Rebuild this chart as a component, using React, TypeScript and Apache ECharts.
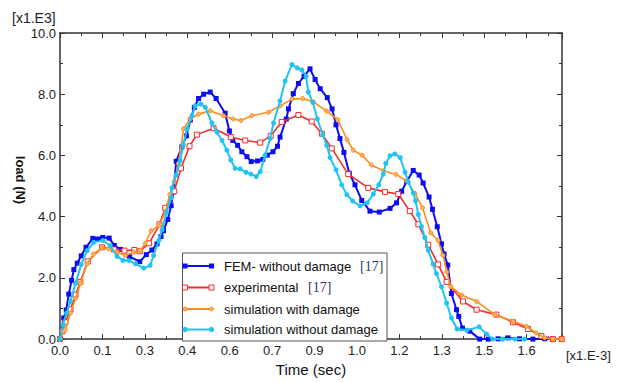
import React, { useEffect, useRef } from 'react';
import * as echarts from 'echarts';

// x tick labels as printed on the reference (ticks every 0.15 axis units)
const xTickLabels = ['0.0', '0.1', '0.3', '0.4', '0.6', '0.7', '0.9', '1.0', '1.2', '1.3', '1.5', '1.6'];
const yTickLabels = ['0.0', '2.0', '4.0', '6.0', '8.0', '10.0'];
const X_STEP = 0.15;
const X_MAX = 1.775;

const femData: [number, number][] = [
  [0, 0], [0.013, 0.69], [0.022, 0.95], [0.031, 1.47], [0.041, 1.92], [0.049, 2.27], [0.061, 2.48],
  [0.075, 2.72], [0.092, 3.0], [0.116, 3.29], [0.133, 3.27], [0.151, 3.32], [0.174, 3.3], [0.192, 3.06],
  [0.214, 2.93], [0.246, 2.69], [0.282, 2.53], [0.305, 2.76], [0.325, 2.91], [0.343, 3.11], [0.357, 3.35],
  [0.366, 3.54], [0.381, 3.91], [0.393, 4.36], [0.401, 4.81], [0.411, 5.81], [0.431, 6.28], [0.447, 6.64],
  [0.461, 7.16], [0.475, 7.57], [0.49, 7.86], [0.508, 8.0], [0.531, 8.07], [0.552, 7.86], [0.584, 7.38],
  [0.599, 6.8], [0.611, 6.49], [0.628, 6.33], [0.643, 6.12], [0.661, 5.96], [0.676, 5.8], [0.698, 5.82],
  [0.717, 5.87], [0.733, 6.01], [0.753, 6.12], [0.769, 6.3], [0.778, 6.6], [0.8, 7.19], [0.808, 7.52],
  [0.825, 8.02], [0.843, 8.35], [0.863, 8.59], [0.884, 8.83], [0.902, 8.48], [0.92, 8.18], [0.945, 7.89],
  [0.962, 7.52], [0.976, 7.0], [0.99, 6.55], [1.004, 6.1], [1.023, 5.42], [1.043, 5.04], [1.067, 4.53],
  [1.096, 4.18], [1.129, 4.15], [1.167, 4.27], [1.19, 4.45], [1.208, 4.83], [1.226, 5.15], [1.249, 5.51],
  [1.27, 5.36], [1.284, 5.1], [1.305, 4.64], [1.317, 4.24], [1.334, 3.67], [1.349, 3.11], [1.358, 2.78],
  [1.371, 2.42], [1.384, 1.49], [1.402, 0.96], [1.41, 0.74], [1.423, 0.36], [1.449, 0.26], [1.484, 0],
  [1.514, 0], [1.549, 0.01], [1.584, 0.04], [1.625, 0.01], [1.672, 0], [1.714, 0.01], [1.743, 0], [1.773, 0],
];

const experimentalData: [number, number][] = [
  [0, 0], [0.009, 0.26], [0.019, 0.55], [0.037, 0.97], [0.055, 1.45], [0.072, 1.87], [0.098, 2.54],
  [0.149, 3.0], [0.19, 2.93], [0.228, 2.89], [0.263, 2.91], [0.282, 2.87], [0.315, 3.13], [0.352, 3.75],
  [0.372, 4.29], [0.404, 4.83], [0.428, 5.58], [0.458, 6.3], [0.484, 6.68], [0.543, 6.89], [0.604, 6.6],
  [0.655, 6.49], [0.708, 6.42], [0.745, 6.64], [0.784, 7.09], [0.843, 7.32], [0.89, 7.11], [0.926, 6.71],
  [0.961, 6.23], [1.019, 5.39], [1.09, 4.94], [1.149, 4.81], [1.196, 4.74], [1.237, 4.18], [1.267, 3.75],
  [1.302, 3.08], [1.337, 2.44], [1.367, 1.87], [1.425, 1.23], [1.473, 0.96], [1.543, 0.8], [1.602, 0.55],
  [1.655, 0.33], [1.702, 0.1], [1.743, 0], [1.774, 0],
];

const simDamageData: [number, number][] = [
  [0, 0], [0.019, 0.31], [0.037, 0.85], [0.055, 1.33], [0.072, 1.82], [0.096, 2.46], [0.119, 2.78],
  [0.149, 2.98], [0.172, 2.95], [0.202, 2.84], [0.231, 2.73], [0.26, 2.84], [0.284, 2.89], [0.302, 3.13],
  [0.322, 3.54], [0.349, 3.7], [0.372, 4.13], [0.388, 4.72], [0.404, 5.15], [0.419, 5.74], [0.437, 6.87],
  [0.461, 7.19], [0.49, 7.35], [0.531, 7.46], [0.578, 7.3], [0.613, 7.19], [0.64, 7.14], [0.678, 7.3],
  [0.737, 7.41], [0.778, 7.62], [0.82, 7.84], [0.858, 7.86], [0.896, 7.75], [0.942, 7.45], [0.982, 7.17],
  [1.015, 6.52], [1.037, 6.17], [1.068, 6.01], [1.101, 5.69], [1.144, 5.5], [1.188, 5.38], [1.227, 5.16],
  [1.255, 4.76], [1.282, 4.29], [1.311, 3.47], [1.337, 3.22], [1.354, 2.74], [1.368, 2.19], [1.382, 1.71],
  [1.42, 1.44], [1.473, 1.23], [1.537, 0.8], [1.602, 0.58], [1.649, 0.42], [1.684, 0.2], [1.714, 0.04],
  [1.743, 0], [1.773, 0],
];

const simNoDamageData: [number, number][] = [
  [0, 0], [0.011, 0.47], [0.023, 0.85], [0.037, 1.23], [0.055, 1.82], [0.075, 2.44], [0.096, 2.89],
  [0.119, 3.16], [0.152, 3.22], [0.178, 3.05], [0.202, 2.7], [0.223, 2.57], [0.243, 2.57], [0.267, 2.46],
  [0.296, 2.32], [0.319, 2.41], [0.331, 2.73], [0.349, 3.22], [0.361, 3.57], [0.376, 4.13], [0.393, 4.61],
  [0.396, 4.94], [0.411, 5.36], [0.425, 5.82], [0.436, 6.35], [0.449, 6.87], [0.467, 7.3], [0.478, 7.62],
  [0.498, 7.68], [0.514, 7.57], [0.537, 7.06], [0.555, 6.76], [0.573, 6.49], [0.59, 6.17], [0.604, 5.85],
  [0.619, 5.58], [0.637, 5.56], [0.658, 5.45], [0.675, 5.39], [0.694, 5.31], [0.708, 5.47], [0.725, 6.01],
  [0.743, 6.55], [0.755, 7.06], [0.778, 7.78], [0.796, 8.43], [0.82, 8.97], [0.839, 8.86], [0.855, 8.79],
  [0.87, 8.59], [0.878, 8.07], [0.894, 7.73], [0.91, 7.19], [0.929, 6.68], [0.943, 6.33], [0.955, 5.93],
  [0.976, 5.53], [0.996, 5.04], [1.014, 4.72], [1.035, 4.51], [1.061, 4.35], [1.086, 4.45], [1.108, 4.74],
  [1.127, 5.04], [1.143, 5.39], [1.152, 5.74], [1.167, 5.99], [1.184, 6.05], [1.203, 5.93], [1.22, 5.45],
  [1.232, 5.13], [1.249, 4.77], [1.257, 4.52], [1.267, 4.07], [1.278, 3.68], [1.29, 3.32], [1.302, 2.9],
  [1.319, 2.46], [1.331, 2.14], [1.349, 1.71], [1.367, 1.17], [1.384, 0.69], [1.404, 0.33], [1.438, 0.29],
  [1.482, 0.4], [1.509, 0.16], [1.53, 0], [1.565, 0], [1.608, 0], [1.643, 0],
];

const seriesNames = ['FEM- without damage', 'experimental', 'simulation with damage', 'simulation without damage'];
const seriesColors = ['#0d0df2', '#f52a2a', '#ff8c1e', '#1fc4f2'];

const SANS = '"Liberation Sans", Arial, sans-serif';
const SERIF = '"Liberation Serif", "DejaVu Serif", serif';

export default function App() {
  const ref = useRef<HTMLDivElement>(null);

  useEffect(() => {
    if (!ref.current) return;
    const chart = echarts.init(ref.current, null, { renderer: 'svg' });

    const axisLineStyle = { color: '#333', width: 1.5 };
    const tickStyle = { color: '#333', width: 1 };

    const xLabelFormatter = (v: number) => {
      const i = Math.round(v / X_STEP);
      if (Math.abs(i * X_STEP - v) > 1e-6) return '';
      return xTickLabels[i] ?? '';
    };
    const yLabelFormatter = (v: number) => {
      const i = Math.round(v / 2);
      return yTickLabels[i] ?? '';
    };

    const legendTop = 253;
    const legendLeft = 182.5;
    const rowsY = [266, 287.5, 309, 329.5];
    const lineX1 = 185;
    const lineX2 = 211.5;
    const LZ = 100;

    const markerFor = (idx: number, cx: number, cy: number) => {
      const c = seriesColors[idx];
      if (idx === 0) {
        return { type: 'rect', z: LZ + 2, shape: { x: cx - 2.5, y: cy - 2.5, width: 5, height: 5 }, style: { fill: c } };
      }
      if (idx === 1) {
        return { type: 'rect', z: LZ + 2, shape: { x: cx - 2.5, y: cy - 2.5, width: 5, height: 5 }, style: { fill: '#fff', stroke: c, lineWidth: 1 } };
      }
      if (idx === 2) {
        return { type: 'circle', z: LZ + 2, shape: { cx, cy, r: 2 }, style: { fill: '#ffb060', stroke: c, lineWidth: 1 } };
      }
      return { type: 'circle', z: LZ + 2, shape: { cx, cy, r: 2.6 }, style: { fill: c } };
    };

    const legendElements: any[] = [
      {
        type: 'rect',
        z: LZ,
        shape: { x: legendLeft, y: legendTop, width: 204.5, height: 88 },
        style: { fill: '#fff', stroke: '#555', lineWidth: 1 },
      },
    ];
    seriesNames.forEach((name, i) => {
      const y = rowsY[i];
      legendElements.push({
        type: 'line',
        z: LZ + 1,
        shape: { x1: lineX1, y1: y, x2: lineX2, y2: y },
        style: { stroke: seriesColors[i], lineWidth: 2 },
      });
      legendElements.push(markerFor(i, lineX1, y));
      legendElements.push(markerFor(i, lineX2, y));
      legendElements.push({
        type: 'text',
        z: LZ + 1,
        x: 224,
        y,
        style: { text: name, fill: '#111', font: `13px ${SANS}`, verticalAlign: 'middle', align: 'left' },
      });
    });
    legendElements.push({
      type: 'text', z: LZ + 1, x: 360, y: rowsY[0],
      style: { text: '[17]', fill: '#2f3a55', font: `14px ${SERIF}`, verticalAlign: 'middle', align: 'left' },
    });
    legendElements.push({
      type: 'text', z: LZ + 1, x: 308, y: rowsY[1],
      style: { text: '[17]', fill: '#2f3a55', font: `14px ${SERIF}`, verticalAlign: 'middle', align: 'left' },
    });

    const makeSeries = (idx: number, data: [number, number][], symbol: string, size: number, item: any, width: number) => ({
      name: seriesNames[idx],
      type: 'line',
      data,
      symbol,
      symbolSize: size,
      showSymbol: true,
      showAllSymbol: true,
      lineStyle: { color: seriesColors[idx], width },
      itemStyle: item,
      xAxisIndex: 0,
      yAxisIndex: 0,
      z: 2 + idx,
      emphasis: { disabled: true },
    });

    const option: any = {
      animation: false,
      backgroundColor: '#fff',
      grid: { left: 60, right: 60, top: 33, bottom: 39, containLabel: false },
      xAxis: [
        {
          type: 'value',
          min: 0,
          max: X_MAX,
          interval: X_STEP,
          position: 'bottom',
          axisLine: { show: true, onZero: false, lineStyle: axisLineStyle },
          axisTick: { show: true, inside: true, length: 5, lineStyle: tickStyle },
          minorTick: { show: true, splitNumber: 2, length: 3, lineStyle: tickStyle },
          splitLine: { show: false },
          axisLabel: {
            formatter: xLabelFormatter,
            fontSize: 13,
            fontFamily: SANS,
            color: '#222',
            margin: 5,
            showMaxLabel: false,
          },
          name: 'Time (sec)',
          nameLocation: 'middle',
          nameGap: 22,
          nameTextStyle: { fontSize: 15, fontFamily: SANS, color: '#111' },
        },
        {
          type: 'value',
          min: 0,
          max: X_MAX,
          interval: X_STEP,
          position: 'top',
          axisLine: { show: true, onZero: false, lineStyle: axisLineStyle },
          axisTick: { show: true, inside: true, length: 5, lineStyle: tickStyle },
          minorTick: { show: true, splitNumber: 2, length: 3, lineStyle: tickStyle },
          splitLine: { show: false },
          axisLabel: { show: false },
        },
      ],
      yAxis: [
        {
          type: 'value',
          min: 0,
          max: 10,
          interval: 2,
          position: 'left',
          axisLine: { show: true, onZero: false, lineStyle: axisLineStyle },
          axisTick: { show: true, inside: true, length: 5, lineStyle: tickStyle },
          minorTick: { show: true, splitNumber: 2, length: 3, lineStyle: tickStyle },
          splitLine: { show: false },
          axisLabel: {
            formatter: yLabelFormatter,
            fontSize: 13,
            fontFamily: SANS,
            color: '#222',
            margin: 4,
          },
        },
        {
          type: 'value',
          min: 0,
          max: 10,
          interval: 2,
          position: 'right',
          axisLine: { show: true, onZero: false, lineStyle: axisLineStyle },
          axisTick: { show: true, inside: true, length: 5, lineStyle: tickStyle },
          minorTick: { show: true, splitNumber: 2, length: 3, lineStyle: tickStyle },
          splitLine: { show: false },
          axisLabel: { show: false },
        },
      ],
      series: [
        makeSeries(0, femData, 'rect', 5, { color: seriesColors[0] }, 2),
        makeSeries(1, experimentalData, 'rect', 5, { color: '#fff', borderColor: seriesColors[1], borderWidth: 1 }, 1.6),
        makeSeries(2, simDamageData, 'circle', 4, { color: '#ffb060', borderColor: seriesColors[2], borderWidth: 1 }, 1.6),
        makeSeries(3, simNoDamageData, 'circle', 5, { color: seriesColors[3] }, 2),
      ],
      graphic: [
        {
          type: 'text', x: 12, y: 18,
          style: { text: '[x1.E3]', fill: '#222', font: `14px ${SANS}`, verticalAlign: 'middle', align: 'left' },
        },
        {
          type: 'text', x: 566, y: 355,
          style: { text: '[x1.E-3]', fill: '#222', font: `13px ${SANS}`, verticalAlign: 'middle', align: 'left' },
        },
        {
          type: 'text', x: 20, y: 180, rotation: -Math.PI / 2,
          style: { text: 'load (N)', fill: '#111', font: `bold 13px ${SANS}`, verticalAlign: 'middle', align: 'center' },
        },
        ...legendElements,
      ],
    };

    chart.setOption(option);
    return () => chart.dispose();
  }, []);

  return (
    <div
      ref={ref}
      style={{ position: 'fixed', left: 0, top: 0, width: 622, height: 382, background: '#fff' }}
    />
  );
}
